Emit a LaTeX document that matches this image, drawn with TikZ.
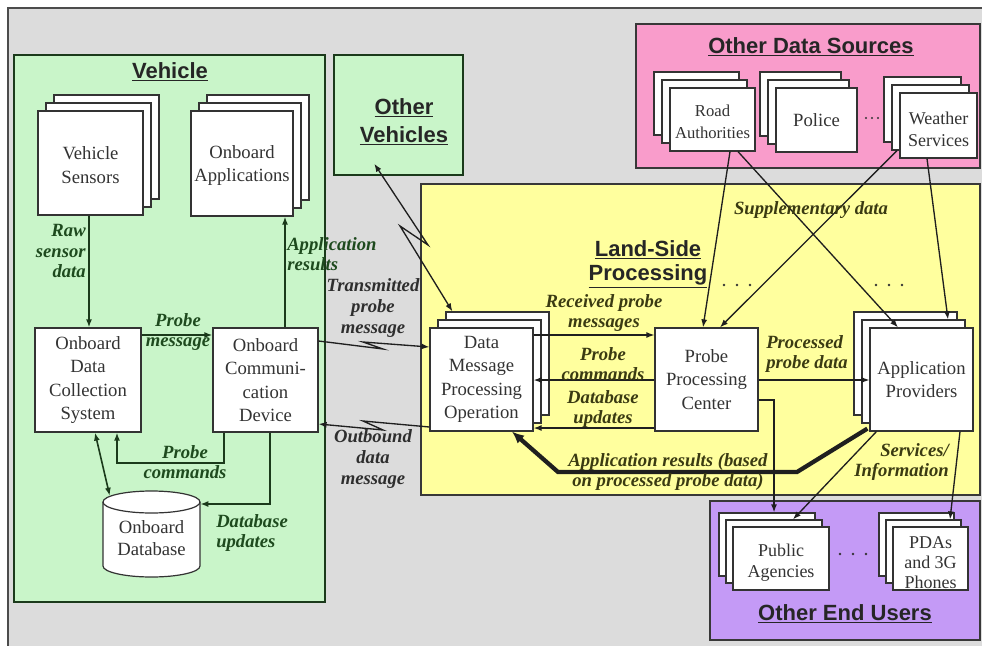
\documentclass[tikz,border=0pt]{standalone}
\usepackage{fontspec}
\setmainfont{Liberation Serif}
\newfontfamily\titlefont{Liberation Sans}
\usetikzlibrary{arrows.meta,calc,fit}

\definecolor{bggray}{HTML}{DCDCDC}
\definecolor{vehgreen}{HTML}{C9F5C9}
\definecolor{landyellow}{HTML}{FFFF9E}
\definecolor{srcpink}{HTML}{F99CCB}
\definecolor{userpurple}{HTML}{C49AF6}
\definecolor{greentext}{HTML}{1E4A1E}
\definecolor{olivetext}{HTML}{3A3A12}
\definecolor{graytext}{HTML}{2E2E2E}
\definecolor{boxtext}{HTML}{333333}
\definecolor{linedark}{HTML}{1F1F1F}
\definecolor{linegreen}{HTML}{1B3A1B}

% taller first line, pushes a box text slightly downwards
\newcommand\toppad[1]{\rule{0pt}{#1}}
% single box with text: name, x1, y1, x2, y2, extra options, text
\newcommand\plainbox[7]{%
  \node[box, #6, minimum width={((#4)-(#2))*0.75pt}, minimum height={((#5)-(#3))*0.75pt}]
    (#1) at ({((#2)+(#4))/2},{((#3)+(#5))/2}) {#7};
}
% stack of three boxes: name, x1, y1, x2, y2, dx, dy, extra options, text
\newcommand\stackbox[9]{%
  \node[box, fit={({#2+2*(#6)},{#3+2*(#7)}) ({#4+2*(#6)},{#5+2*(#7)})}] (#1-b2) {};
  \node[box, fit={({#2+(#6)},{#3+(#7)}) ({#4+(#6)},{#5+(#7)})}] (#1-b1) {};
  \plainbox{#1}{#2}{#3}{#4}{#5}{#8}{#9}
}

\begin{document}
\begin{tikzpicture}[x=0.75pt, y=-0.75pt,
  region/.style={draw=black!78, line width=1.1pt, inner sep=0pt},
  box/.style={draw=black!80, fill=white, line width=0.9pt, inner sep=0pt,
    align=center, text=boxtext, font=\fontsize{14}{17.5}\selectfont},
  title/.style={inner sep=0pt, align=center, text=black!85,
    font=\titlefont\bfseries\fontsize{16.5}{18}\selectfont},
  lbl/.style={inner sep=0pt, align=center,
    font=\fontsize{14}{15.5}\selectfont\bfseries\itshape},
  lblg/.style={lbl, text=greentext},
  lbly/.style={lbl, text=olivetext},
  lblk/.style={lbl, text=graytext},
  tip/.style={-{Latex[length=6pt,width=4.5pt]}},
  bothtips/.style={{Latex[length=6pt,width=4.5pt]}-{Latex[length=6pt,width=4.5pt]}},
  arrg/.style={tip, line width=1.2pt, draw=linegreen},
  arrgboth/.style={bothtips, line width=1.2pt, draw=linegreen},
  arr/.style={tip, line width=1.0pt, draw=linedark},
  arrboth/.style={bothtips, line width=1.0pt, draw=linedark},
  arrthick/.style={-{Latex[length=9pt,width=8pt]}, line width=3.2pt, draw=linedark},
  dotmark/.style={fill=black!80}
]
\useasboundingbox (0,0) rectangle (982,646);
\clip (0,0) rectangle (982,646);
\fill[white] (0,0) rectangle (982,646);

% grey sheet
\fill[bggray] (8,8) rectangle (995,660);
\draw[line width=0.9pt, black!70] (8,660) -- (8,8) -- (995,8);

% regions
\node[region, fill=vehgreen, draw=linegreen, fit={(14,55) (325,602)}] (vehicle) {};
\node[region, fill=vehgreen, draw=linegreen, fit={(334,55) (463,175)}] (ov) {};
\node[region, fill=srcpink, fit={(636,24) (980,168)}] (ods) {};
\node[region, fill=landyellow, fit={(421,184) (980,495)}] (lsp) {};
\node[region, fill=userpurple, fit={(710,501) (980,640)}] (oeu) {};

% region titles
\node[title, anchor=base] (vehicle-t) at (170,78) {\underline{Vehicle}};
\node[title, font=\titlefont\bfseries\fontsize{16.5}{21}\selectfont] (ov-t) at (404,122) {\underline{Other}\\\underline{Vehicles}};
\node[title, anchor=base] (ods-t) at (811,53) {\underline{Other Data Sources}};
\node[title] (lsp-t) at (648,264) {\underline{Land-Side}\\\underline{Processing}};
\node[title, anchor=base] (oeu-t) at (845,620) {\underline{Other End Users}};

% vehicle components
\stackbox{vs}{38}{111}{143}{215}{8}{-8}{}{\toppad{13pt}Vehicle\\Sensors}
\stackbox{oa}{191}{111}{293}{216}{8}{-8}{}{\toppad{13pt}Onboard\\Applications}
\plainbox{odcs}{35}{328}{141}{432}{}{Onboard\\Data\\Collection\\System}
\plainbox{ocd}{213}{328}{318}{432}{}{Onboard\\Communi-\\cation\\Device}

% onboard database cylinder
\draw[fill=white, draw=black!80, line width=0.9pt]
  (103,502) -- (103,566) arc[start angle=180, end angle=0, x radius=48.5, y radius=11]
  -- (200,502) arc[start angle=0, end angle=-180, x radius=48.5, y radius=11] -- cycle;
\draw[draw=black!80, line width=0.9pt]
  (103,502) arc[start angle=180, end angle=0, x radius=48.5, y radius=11];
\node[inner sep=0pt, fit={(103,491) (200,577)}] (db) {};
\node[inner sep=0pt, align=center, text=boxtext, font=\fontsize{14}{16.5}\selectfont] (db-t) at (151.5,538) {Onboard\\Database};

% land-side components
\stackbox{dmpo}{430}{328}{533}{431}{8}{-8}{}{Data\\Message\\Processing\\Operation}
\plainbox{ppc}{655}{328}{758}{431}{}{Probe\\Processing\\Center}
\stackbox{ap}{870}{328}{973}{431}{-8}{-8}{}{Application\\Providers}

% other data sources
\stackbox{ra}{670}{88}{755}{151}{-8}{-8}{font=\fontsize{12.5}{16.5}\selectfont}{\toppad{12pt}Road\\Authorities}
\stackbox{pol}{776}{88}{857}{152}{-8}{-8}{}{Police}
\stackbox{ws}{900}{93}{977}{158}{-8}{-8}{font=\fontsize{13.5}{17}\selectfont}{\toppad{15pt}Weather\\Services}

% other end users
\stackbox{pa}{733}{527}{829}{590}{-7}{-7}{font=\fontsize{13.5}{16}\selectfont}{\toppad{16pt}Public\\Agencies}
\stackbox{pda}{893}{527}{968}{590}{-7}{-7}{font=\fontsize{13.5}{15}\selectfont}{\toppad{14.5pt}PDAs\\and 3G\\Phones}

% ellipses
\foreach \px in {866,872,878} \fill[dotmark] (\px,118) circle (0.9pt);
\foreach \px in {724,737,750} \fill[dotmark] (\px,285) circle (1.1pt);
\foreach \px in {876,889,902} \fill[dotmark] (\px,285) circle (1.1pt);
\foreach \px in {840,853,866} \fill[dotmark] (\px,554) circle (1.1pt);

% in-vehicle flows
\draw[arrg] (89,0 |- vs.south) -- (89,0 |- odcs.north);
\draw[arrg] (285,0 |- ocd.north) -- (285,0 |- oa.south);
\draw[arrg] (odcs.east |- 0,335) -- (ocd.west |- 0,335);
\draw[arrg] (224,0 |- ocd.south) -- (224,463) -- (117,463) -- (117,0 |- odcs.south);
\draw[arrgboth] (95,0 |- odcs.south) -- ($(db.north west)+(7,5)$);
\draw[arrg] (270,0 |- ocd.south) -- (270,504) -- (db.east |- 0,504);

% wireless links
\draw[arr] (ocd.east |- 0,341) -- (383,349) -- (363,342) -- (dmpo.west |- 0,347);
\draw[arr] (dmpo.west |- 0,427) -- (363,421) -- (383,430) -- (ocd.east |- 0,424);
\draw[arrboth] ($(ov.south west)+(41,-12)$) -- (428,245) -- (400,226) -- ($(dmpo-b2.north west)+(7,0)$);

% land-side flows
\draw[arr] (dmpo.east |- 0,335) -- (ppc.west |- 0,335);
\draw[arr] (ppc.west |- 0,380) -- (dmpo.east |- 0,380);
\draw[arr] (ppc.west |- 0,428) -- (dmpo.east |- 0,428);
\draw[arrthick] ($(ap.south west)+(-2,-3)$) -- (797,472) -- (558,472) -- (512,0 |- dmpo.south);
\draw[arr] (ppc.east |- 0,380) -- (ap.west |- 0,380);
\draw[arr] (ppc.east |- 0,400) -- (774,400) -- (774,0 |- pa-b2.north);
\draw[arr] ($(ap.south west)+(7,0)$) -- (793,0 |- pa-b1.north);
\draw[arr] (960,0 |- ap.south) -- (950,0 |- pda-b1.north);

% supplementary data
\draw[arr] (730,0 |- ra.south) -- (703,0 |- ppc.north);
\draw[arr] (738,0 |- ra.south) -- (898,0 |- ap.north);
\draw[arr] (897,0 |- ws-b1.south) -- (720,0 |- ppc.north);
\draw[arr] (927,0 |- ws.south) -- (948,0 |- ap-b1.north);

% flow labels
\node[lblg, anchor=east, align=right] (l-raw) at (86,251) {Raw\\sensor\\data};
\node[lblg, anchor=west, align=left] (l-appres) at (287,254) {Application\\results};
\node[lblg] (l-pmsg) at (178,332) {Probe\\message};
\node[lblg] (l-pcmd) at (185,462) {Probe\\commands};
\node[lblg, anchor=west, align=left] (l-dbu) at (216,533) {Database\\updates};
\node[lblk] (l-tx) at (373,308) {Transmitted\\probe\\message};
\node[lblk] (l-out) at (373,459) {Outbound\\data\\message};
\node[lbly] (l-rx) at (604,313) {Received probe\\messages};
\node[lbly] (l-pc2) at (603,364) {Probe\\commands};
\node[lbly] (l-dbu2) at (603,409) {Database\\updates};
\node[lbly] (l-ar) at (668,472) {Application results (based\\on processed probe data)};
\node[lbly, anchor=west, align=left] (l-ppd) at (766,354) {Processed\\probe data};
\node[lbly] (l-sup) at (811,210) {Supplementary data};
\node[lbly, anchor=east, align=right] (l-svc) at (949,462) {Services/\\Information};
\end{tikzpicture}
\end{document}
